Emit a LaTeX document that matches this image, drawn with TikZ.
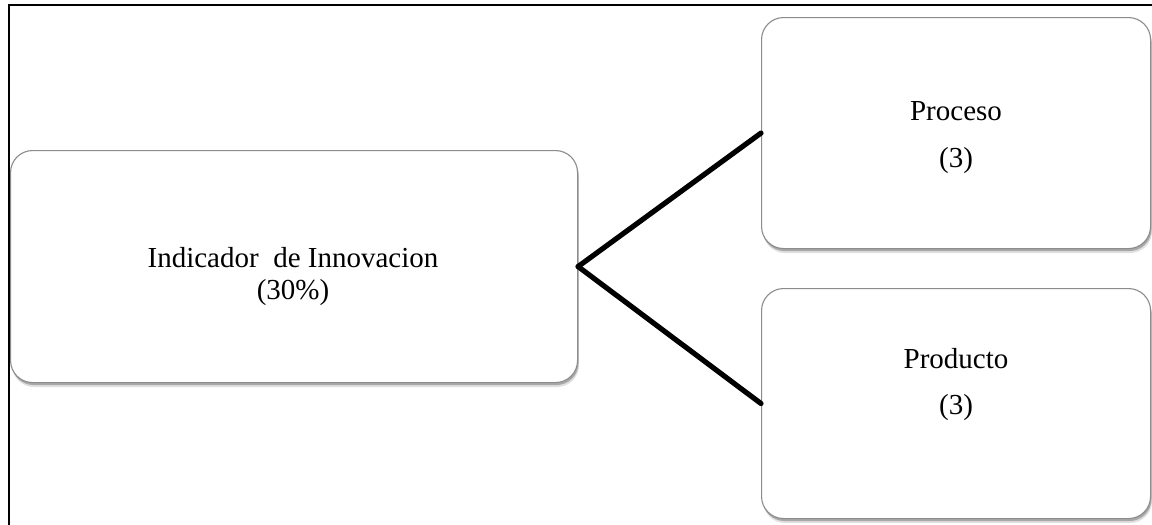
\documentclass[tikz,border=0pt]{standalone}
\usepackage{fontspec}
\setmainfont{Liberation Serif}
\usetikzlibrary{shadows}
\begin{document}
\begin{tikzpicture}[x=1pt,y=-1pt,
  box/.style={draw=black!45, line width=1.1pt, fill=white, rounded corners=22pt,
    inner sep=0pt, anchor=north west,
    drop shadow={shadow xshift=1.5pt, shadow yshift=-4.5pt, fill=black, opacity=0.12},
    drop shadow={shadow xshift=1pt, shadow yshift=-2.5pt, fill=black, opacity=0.25}},
  txt/.style={anchor=base, inner sep=0pt, font=\fontsize{29}{35}\selectfont},
  link/.style={line width=5.2pt, black, line cap=round}]
\useasboundingbox (0,0) rectangle (1152,525);
% frame
\draw[line width=2.5pt] (9,525) -- (9,5) -- (1152,5);
% boxes
\node[box, minimum width=567pt, minimum height=232pt] (main) at (10,150) {};
\node[box, minimum width=389pt, minimum height=231pt] (proc) at (761,17) {};
\node[box, minimum width=389pt, minimum height=230pt] (prod) at (761,288) {};
% connectors
\draw[link] (main.east) -- (proc.west);
\draw[link] (main.east) -- (prod.west);
% labels
\node[txt] (t1) at (293,267) {Indicador\ \ de Innovacion};
\node[txt] (t2) at (293,299) {(30\%)};
\node[txt] (t3) at (956,120) {Proceso};
\node[txt] (t4) at (956,167) {(3)};
\node[txt] (t5) at (956,368) {Producto};
\node[txt] (t6) at (956,414) {(3)};
\end{tikzpicture}
\end{document}
